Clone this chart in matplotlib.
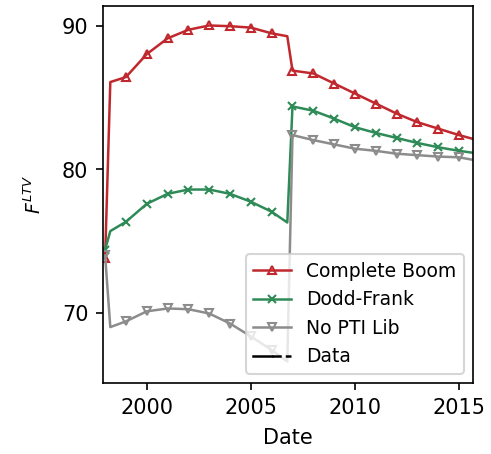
import matplotlib
matplotlib.use("Agg")
import matplotlib.pyplot as plt
from matplotlib.lines import Line2D
from matplotlib.legend_handler import HandlerTuple

# Dates (years); jump points at 1998.25 and 2006.75
dates = [1998.0, 1998.25, 1999, 2000, 2001, 2002, 2003, 2004, 2005, 2006, 2006.75,
         2007, 2008, 2009, 2010, 2011, 2012, 2013, 2014, 2015, 2015.75]
marker_idx = [0, 2, 3, 4, 5, 6, 7, 8, 9, 11, 12, 13, 14, 15, 16, 17, 18, 19]

complete_boom = [73.8, 86.1, 86.45, 88.05, 89.15, 89.75, 90.05, 90.0, 89.9, 89.5, 89.3,
                 86.9, 86.7, 86.0, 85.3, 84.6, 83.9, 83.3, 82.85, 82.4, 82.1]
dodd_frank = [74.4, 75.7, 76.35, 77.6, 78.3, 78.6, 78.6, 78.3, 77.75, 77.05, 76.3,
              84.4, 84.1, 83.55, 82.95, 82.55, 82.2, 81.85, 81.55, 81.3, 81.15]
no_pti_lib = [74.0, 69.0, 69.4, 70.1, 70.3, 70.25, 69.95, 69.25, 68.35, 67.4, 66.6,
              82.4, 82.05, 81.75, 81.45, 81.3, 81.1, 81.0, 80.9, 80.85, 80.65]

labels = ["Complete Boom", "Dodd-Frank", "No PTI Lib", "Data"]
xticks = [2000, 2005, 2010, 2015]
yticks = [70, 80, 90]

fig = plt.figure(figsize=(3.28, 3.027), dpi=150)
ax = fig.add_axes([0.2094, 0.1564, 0.752, 0.830])

c_red = "#c0282d"
c_green = "#2e8b57"
c_gray = "#8c8c8c"

kw = dict(lw=1.2, ms=4.0, mfc="none", mew=1.0, markevery=marker_idx)
h1, = ax.plot(dates, complete_boom, color=c_red, marker="^", **kw)
h2, = ax.plot(dates, dodd_frank, color=c_green, marker="x", **kw)
h3, = ax.plot(dates, no_pti_lib, color=c_gray, marker="v", **kw)

d1 = Line2D([], [], color="black", lw=1.2, ls="-")
d2 = Line2D([], [], color="black", lw=1.2, ls="--")

ax.set_xlim(1997.9, 2015.67)
ax.set_ylim(65.1, 91.4)
ax.set_xticks(xticks)
ax.set_yticks(yticks)
ax.set_xlabel("Date", labelpad=5)
ax.set_ylabel("$F^{LTV}$", fontsize=9, labelpad=8)

ax.legend([h1, h2, h3, (d1, d2)], labels, loc="lower right", fontsize=9,
          handlelength=2.0, handler_map={tuple: HandlerTuple(ndivide=None, pad=0)})

fig.savefig("out.png", dpi=150)
